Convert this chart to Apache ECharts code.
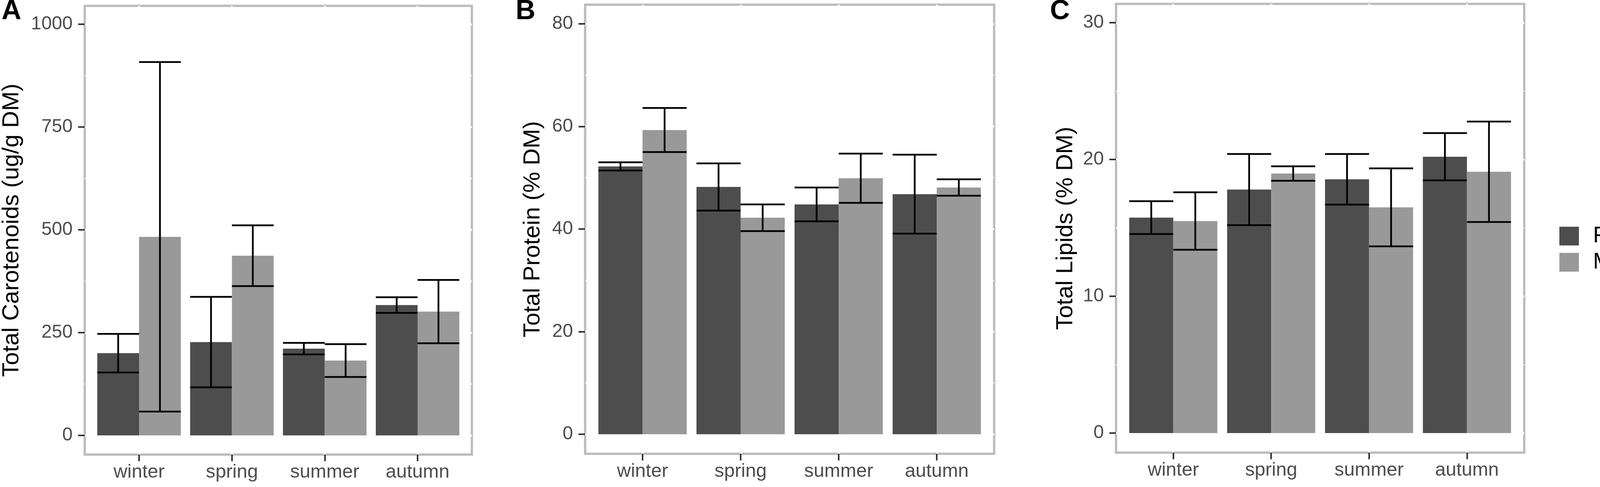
<!DOCTYPE html>
<html>
<head>
<meta charset="utf-8">
<title>Seasonal composition by sex</title>
<script src="https://cdn.jsdelivr.net/npm/echarts@6/dist/echarts.min.js"></script>
<style>
  html, body { margin: 0; padding: 0; background: #fff; }
  #chart-container { width: 4279px; height: 1246px; }
</style>
</head>
<body>
<div id="chart-container"></div>
<script>
var seasons = ['winter', 'spring', 'summer', 'autumn'];
var sexes = ['Female', 'Male'];

// A: total carotenoids (ug/g DM), mean and error half-width
var caroFemale = [200, 227, 211, 317];
var caroFemaleErr = [47, 110, 14, 19];
var caroMale = [483, 437, 182, 301];
var caroMaleErr = [425, 74, 40, 77];

// B: total protein (% DM)
var protFemale = [52.2, 48.2, 44.8, 46.8];
var protFemaleErr = [0.8, 4.6, 3.3, 7.7];
var protMale = [59.3, 42.2, 49.9, 48.1];
var protMaleErr = [4.3, 2.6, 4.8, 1.6];

// C: total lipids (% DM)
var lipFemale = [15.75, 17.8, 18.55, 20.2];
var lipFemaleErr = [1.2, 2.6, 1.85, 1.73];
var lipMale = [15.5, 18.97, 16.5, 19.1];
var lipMaleErr = [2.1, 0.53, 2.85, 3.67];

// tick labels
var caroTicks = [0, 250, 500, 750, 1000];
var caroMinor = [125, 375, 625, 875];
var protTicks = [0, 20, 40, 60, 80];
var protMinor = [10, 30, 50, 70];
var lipTicks = [0, 10, 20, 30];
var lipMinor = [5, 15, 25];

var font = "'Liberation Sans', Arial, sans-serif";
var fills = ['#4d4d4d', '#999999'];
var offsets = [-0.225, 0.225];
var half = 0.225;

var panels = [
  { letter: 'A', letterLeft: 4, title: 'Total Carotenoids (ug/g DM)', nameGap: 157,
    values: [[caroFemale, caroFemaleErr], [caroMale, caroMaleErr]],
    ticks: caroTicks, minor: caroMinor, min: -46.6, max: 1044.7,
    grid: { left: 217, top: 15, width: 991, height: 1148 } },
  { letter: 'B', letterLeft: 1320, title: 'Total Protein (% DM)', nameGap: 104,
    values: [[protFemale, protFemaleErr], [protMale, protMaleErr]],
    ticks: protTicks, minor: protMinor, min: -3.81, max: 83.73,
    grid: { left: 1498, top: 12, width: 1047, height: 1149 } },
  { letter: 'C', letterLeft: 2688, title: 'Total Lipids (% DM)', nameGap: 99,
    values: [[lipFemale, lipFemaleErr], [lipMale, lipMaleErr]],
    ticks: lipTicks, minor: lipMinor, min: -1.43, max: 31.37,
    grid: { left: 2857, top: 10, width: 1045, height: 1148 } }
];

var dom = document.getElementById('chart-container');
var myChart = echarts.init(dom, null, { renderer: 'canvas' });

function renderBar(s) {
  return function (params, api) {
    var c = api.value(0) + offsets[s];
    var m = api.value(1);
    var e = api.value(2);
    var tl = api.coord([c - half, m]);
    var br = api.coord([c + half, 0]);
    var hiL = api.coord([c - half, m + e]);
    var hiR = api.coord([c + half, m + e]);
    var loL = api.coord([c - half, m - e]);
    var loR = api.coord([c + half, m - e]);
    var ink = { stroke: '#000', lineWidth: 4.5 };
    return {
      type: 'group',
      children: [
        { type: 'rect', shape: { x: tl[0], y: tl[1], width: br[0] - tl[0], height: br[1] - tl[1] },
          style: { fill: fills[s] } },
        { type: 'line', shape: { x1: (hiL[0] + hiR[0]) / 2, y1: hiL[1], x2: (loL[0] + loR[0]) / 2, y2: loL[1] }, style: ink },
        { type: 'line', shape: { x1: hiL[0], y1: hiL[1], x2: hiR[0], y2: hiR[1] }, style: ink },
        { type: 'line', shape: { x1: loL[0], y1: loL[1], x2: loR[0], y2: loR[1] }, style: ink }
      ]
    };
  };
}

var seasonIdx = seasons.map(function (s, i) { return i; });
var grids = [], xAxes = [], yAxes = [], series = [], titles = [];
panels.forEach(function (p, k) {
  grids.push({
    left: p.grid.left, top: p.grid.top, width: p.grid.width, height: p.grid.height,
    show: true, borderColor: '#bdbdbd', borderWidth: 6, backgroundColor: '#fff',
    containLabel: false, outerBoundsMode: 'none'
  });
  xAxes.push({
    gridIndex: k, type: 'value', min: -0.585, max: 3.585, position: 'bottom',
    axisLine: { show: false, onZero: false },
    axisTick: { show: true, customValues: seasonIdx, length: 17,
      lineStyle: { color: '#333', width: 4 } },
    axisLabel: { customValues: seasonIdx,
      formatter: function (v) { return seasons[Math.round(v)]; },
      fontSize: 49, color: '#4d4d4d', fontFamily: font, margin: 21 },
    splitLine: { show: true, lineStyle: { color: '#fff', width: 5 } }
  });
  yAxes.push({
    gridIndex: k, type: 'value', min: p.min, max: p.max, position: 'left',
    axisLine: { show: false, onZero: false },
    axisTick: { show: true, customValues: p.ticks, length: 17, lineStyle: { color: '#333', width: 4 } },
    axisLabel: { customValues: p.ticks, formatter: function (v) { return String(v); },
      fontSize: 48, color: '#4d4d4d', fontFamily: font, margin: 31 },
    splitLine: { show: true, lineStyle: { color: '#fff', width: 5 } },
    name: p.title, nameLocation: 'middle', nameGap: p.nameGap,
    nameTextStyle: { fontSize: 60, color: '#000', fontFamily: font }
  });
  yAxes.push({
    gridIndex: k, type: 'value', min: p.min, max: p.max, position: 'right',
    axisLine: { show: false, onZero: false },
    axisTick: { show: false, customValues: p.minor },
    axisLabel: { show: false },
    splitLine: { show: true, lineStyle: { color: '#fff', width: 3 } }
  });
  p.values.forEach(function (pair, s) {
    series.push({
      type: 'custom',
      name: sexes[s],
      xAxisIndex: k,
      yAxisIndex: k * 2,
      itemStyle: { color: fills[s] },
      encode: { x: 0, y: 1 },
      data: pair[0].map(function (v, i) { return [i, v, pair[1][i]]; }),
      renderItem: renderBar(s)
    });
  });
  titles.push({
    text: p.letter, left: p.letterLeft, top: -5, padding: 0,
    textStyle: { fontSize: 70, fontWeight: 'bold', color: '#000', fontFamily: font }
  });
});

var option = {
  animation: false,
  backgroundColor: '#fff',
  title: titles,
  legend: {
    orient: 'vertical', left: 3992, top: 575, padding: 0, width: 287,
    itemWidth: 50, itemHeight: 48, itemGap: 9,
    data: sexes.map(function (s, i) { return { name: s, icon: 'rect', itemStyle: { color: fills[i] } }; }),
    textStyle: { fontSize: 58, color: '#000', fontFamily: font, padding: [0, 0, 0, 31],
      width: 230, overflow: 'none' }
  },
  grid: grids,
  xAxis: xAxes,
  yAxis: yAxes,
  series: series
};

myChart.setOption(option);
window.addEventListener('resize', myChart.resize);
</script>
</body>
</html>
